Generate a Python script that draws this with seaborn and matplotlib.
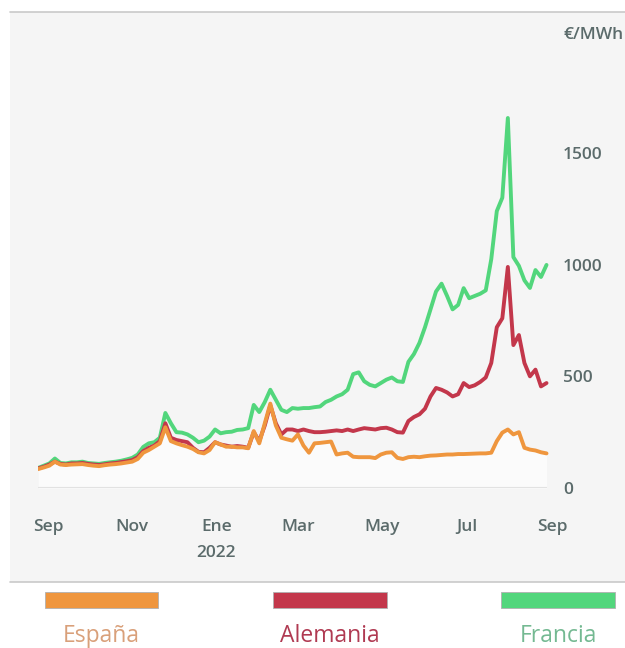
import pandas as pd
import numpy as np
import matplotlib
matplotlib.use("Agg")
import matplotlib.pyplot as plt
from matplotlib.patches import Rectangle
import seaborn as sns

# one point every 4 days, 25 Aug 2021 -> 28 Aug 2022
fechas = pd.date_range("2021-08-25", periods=93, freq="4D")

francia = [90, 100, 110, 132, 112, 110, 115, 115, 118, 112,
           110, 108, 112, 115, 118, 122, 128, 135, 150, 184,
           200, 205, 225, 336, 290, 250, 248, 240, 225, 205,
           212, 230, 262, 245, 250, 252, 260, 262, 268, 372,
           340, 385, 440, 395, 350, 340, 358, 355, 358, 358,
           362, 365, 385, 395, 410, 420, 440, 510, 518, 478,
           462, 455, 470, 485, 495, 478, 475, 565, 600, 650,
           720, 800, 880, 915, 860, 800, 820, 895, 850, 860,
           870, 885, 1025, 1240, 1300, 1657, 1034, 995, 930, 896,
           976, 945, 999]

alemania = [88, 95, 105, 118, 108, 105, 110, 110, 112, 108,
            105, 103, 106, 110, 112, 116, 120, 125, 138, 165,
            180, 190, 210, 290, 225, 215, 210, 205, 180, 162,
            160, 180, 205, 195, 190, 185, 188, 185, 180, 250,
            210, 280, 370, 290, 240, 262, 262, 255, 262, 255,
            250, 250, 252, 255, 258, 255, 262, 255, 262, 268,
            265, 262, 268, 270, 262, 250, 248, 300, 318, 330,
            355, 410, 448, 440, 428, 410, 420, 470, 452, 460,
            475, 495, 560, 720, 760, 990, 640, 685, 560, 500,
            530, 455, 470]

espana = [85, 92, 100, 118, 105, 103, 105, 106, 107, 103,
          100, 98, 102, 105, 107, 110, 114, 118, 130, 158,
          170, 185, 200, 272, 210, 200, 192, 185, 175, 160,
          155, 170, 205, 195, 185, 185, 182, 182, 178, 255,
          200, 290, 378, 280, 225, 218, 212, 240, 190, 158,
          200, 202, 205, 208, 150, 155, 158, 140, 138, 138,
          138, 134, 150, 158, 160, 135, 130, 138, 140, 138,
          142, 145, 146, 148, 150, 150, 152, 152, 153, 154,
          155, 155, 158, 210, 248, 262, 240, 250, 180, 172,
          168, 160, 155]

paises = ["Francia", "Alemania", "España"]
colores = {"España": "#ef963e", "Alemania": "#c3374b", "Francia": "#52d67c"}
colores_texto = {"España": "#d9a07a", "Alemania": "#b03a52", "Francia": "#74b992"}

meses = ["2021-09-01", "2021-11-01", "2022-01-01", "2022-03-01",
         "2022-05-01", "2022-07-01", "2022-09-01"]
etiquetas_mes = ["Sep", "Nov", "Ene\n2022", "Mar", "May", "Jul", "Sep"]
yticks = [0, 500, 1000, 1500]

df = pd.DataFrame({
    "fecha": np.tile(fechas, 3),
    "precio": francia + alemania + espana,
    "pais": np.repeat(["Francia", "Alemania", "España"], len(fechas)),
})

sns.set_style("white")
plt.rcParams["font.family"] = ["Open Sans", "DejaVu Sans"]

fig = plt.figure(figsize=(6.25, 6.48), dpi=100)
W, H = 625, 648

# grey panel behind the chart
fig.patches.append(Rectangle((10 / W, 1 - 582 / H), 1 - 10 / W, 570 / H,
                             transform=fig.transFigure, facecolor="#f5f5f5",
                             edgecolor="none", zorder=-2))
for yy in (12, 582):
    fig.lines.append(plt.Line2D([10 / W, 1], [1 - yy / H, 1 - yy / H],
                                transform=fig.transFigure, color="#c9c9c9",
                                lw=1.2, zorder=-1))

ax = fig.add_axes([38.3 / W, 1 - 488 / H, (554.8 - 38.3) / W, (488 - 108.4) / H])
ax.set_zorder(1)
ax.set_facecolor("none")

ax.fill_between(fechas, 0, espana, color="#fbfbfb", zorder=0, lw=0)
ax.hlines(0, fechas[0], fechas[-1], color="#e2e2e2", lw=1.5, zorder=1)

sns.lineplot(data=df, x="fecha", y="precio", hue="pais", hue_order=paises,
             palette=colores, linewidth=2.8, legend=False, ax=ax)

ax.set_xlim(pd.Timestamp("2021-08-25"), pd.Timestamp("2022-09-03"))
ax.set_ylim(0, 1700)
ax.set_xticks(pd.to_datetime(meses))
ax.set_xticklabels(etiquetas_mes, linespacing=1.85)
ax.set_yticks(yticks)
ax.set_yticklabels([str(v) for v in yticks])
ax.yaxis.tick_right()
ax.tick_params(axis="x", length=0, pad=22, labelsize=12.5, labelcolor="#5b6b6b")
ax.tick_params(axis="y", length=0, pad=6, labelsize=12.5, labelcolor="#5b6b6b")
for lab in ax.get_xticklabels() + ax.get_yticklabels():
    lab.set_fontweight("semibold")
for lab in ax.get_yticklabels():
    lab.set_horizontalalignment("left")
for lab in ax.get_xticklabels():
    lab.set_verticalalignment("top")
ax.set_xlabel("")
ax.set_ylabel("")
sns.despine(ax=ax, left=True, bottom=True, right=True, top=True)

fig.text(563 / W, 1 - 35 / H, "€/MWh", ha="left", va="center",
         fontsize=12.5, fontweight="semibold", color="#5b6b6b")

# legend: colour bar with name underneath
leyenda = [("España", 45, 158), ("Alemania", 273, 387), ("Francia", 501, 615)]
for nombre, x0, x1 in leyenda:
    fig.patches.append(Rectangle((x0 / W, 1 - 608 / H), (x1 - x0) / W, 16 / H,
                                 transform=fig.transFigure,
                                 facecolor=colores[nombre], edgecolor="#b0b0b0", lw=0.6))
    fig.text((x0 + x1) / 2 / W, 1 - 636 / H, nombre, ha="center", va="center",
             fontsize=16.5, color=colores_texto[nombre])

fig.savefig("out.png", dpi=100, facecolor="white")
